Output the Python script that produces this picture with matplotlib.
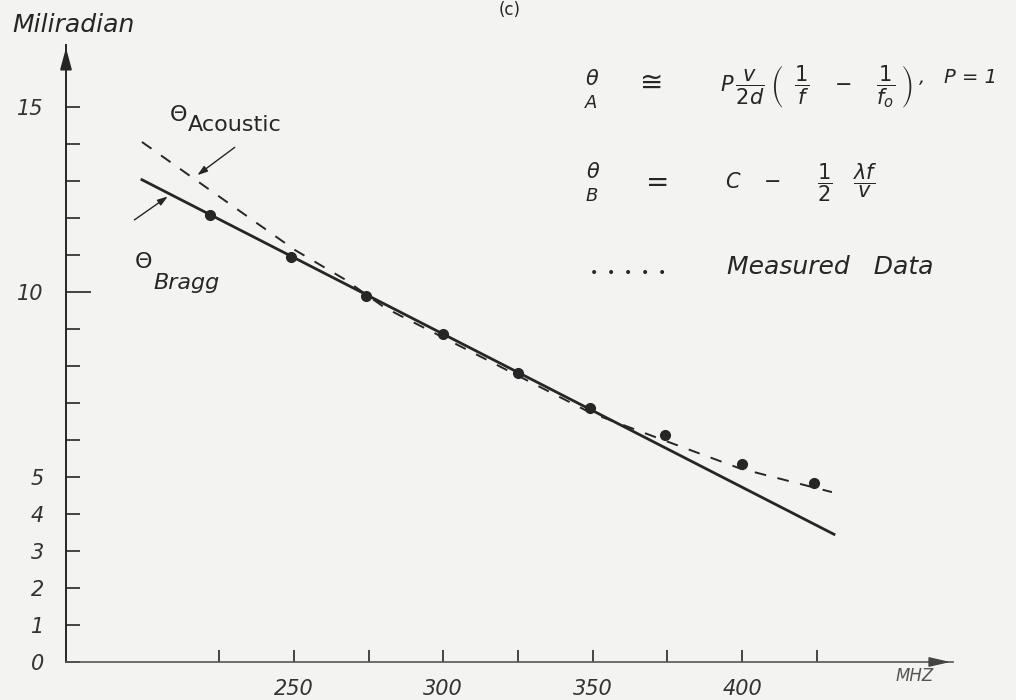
"""Bragg vs acoustic deflection angle against frequency, hand-lettered style."""
import matplotlib
matplotlib.use("Agg")
import matplotlib.pyplot as plt
from matplotlib.ticker import FixedLocator, FixedFormatter

plt.rcParams["font.family"] = ["DejaVu Sans"]
plt.rcParams["mathtext.fontset"] = "dejavusans"

INK = "#262626"
PAPER = "#f3f3f1"

# measured points (MHz, milliradian)
MEAS_MHZ = [222, 249, 274, 300, 325, 349, 374, 400, 424]
MEAS_MRAD = [12.09, 10.95, 9.90, 8.85, 7.82, 6.85, 6.12, 5.34, 4.83]

# theta Bragg (straight line)
BRAGG_MHZ = [199.2, 430.7]
BRAGG_MRAD = [13.03, 3.45]

# theta acoustic (dashed curve)
ACOUSTIC_MHZ = [199.2, 250.4, 266.8, 280.5, 349.1, 373.8, 399.2, 430.0]
ACOUSTIC_MRAD = [14.05, 11.13, 10.35, 9.57, 6.74, 5.99, 5.23, 4.59]

XTICKS = [225, 250, 275, 300, 325, 350, 375, 400, 425]
XTICK_LABELS = ["", "250", "", "300", "", "350", "", "400", ""]
YTICKS = list(range(0, 16))
YTICK_LABELS = ["0", "1", "2", "3", "4", "5", "", "", "", "", "10", "", "", "", "", "15"]

fig = plt.figure(figsize=(10.16, 7.0), dpi=100, facecolor=PAPER)
ax = fig.add_axes([66 / 1016, 1 - 662 / 700, (953 - 66) / 1016, (662 - 45) / 700])
ax.set_facecolor(PAPER)
ax.set_xlim(173.8, 470.5)
ax.set_ylim(0, 16.67)

for side in ("top", "right"):
    ax.spines[side].set_visible(False)
ax.spines["left"].set_linewidth(1.4)
ax.spines["bottom"].set_linewidth(1.2)
ax.spines["left"].set_color(INK)
ax.spines["bottom"].set_color("#555555")

# axis arrowheads
ax.annotate("", xy=(0, 1.0), xytext=(0, 0.96), xycoords="axes fraction",
            arrowprops=dict(arrowstyle="-|>,head_length=1.3,head_width=0.35",
                            color=INK, lw=1.4))
ax.annotate("", xy=(1.0, 0), xytext=(0.97, 0), xycoords="axes fraction",
            arrowprops=dict(arrowstyle="-|>,head_length=1.3,head_width=0.3",
                            color="#444444", lw=1.0))

ax.xaxis.set_major_locator(FixedLocator(XTICKS))
ax.xaxis.set_major_formatter(FixedFormatter(XTICK_LABELS))
ax.yaxis.set_major_locator(FixedLocator(YTICKS))
ax.yaxis.set_major_formatter(FixedFormatter(YTICK_LABELS))
ax.tick_params(axis="both", direction="in", colors=INK, width=1.2,
               labelsize=15, labelcolor="#333333")
ax.tick_params(axis="x", length=9, pad=12)
ax.tick_params(axis="y", length=10, pad=16)
for lab in ax.get_xticklabels() + ax.get_yticklabels():
    lab.set_fontstyle("italic")
    lab.set_fontweight("light")
ax.yaxis.get_major_ticks()[10].tick1line.set_markersize(18)

# lines and points
ax.plot(BRAGG_MHZ, BRAGG_MRAD, color=INK, lw=2.0)
ax.plot(ACOUSTIC_MHZ, ACOUSTIC_MRAD, color=INK, lw=1.4, ls=(0, (6, 6)))
ax.plot(MEAS_MHZ, MEAS_MRAD, "o", color=INK, ms=7)

# line labels with pointer arrows
ax.text(211.3, 14.78, "\u0398", fontsize=16, color=INK, ha="center", va="center")
ax.text(214.6, 14.50, "Acoustic", fontsize=16, color=INK, ha="left", va="center")
ax.annotate("", xy=(217.0, 13.11), xytext=(231.0, 13.95),
            arrowprops=dict(arrowstyle="-|>,head_length=0.6,head_width=0.2",
                            color=INK, lw=1.0))
ax.text(199.6, 10.82, "\u0398", fontsize=16, color=INK, ha="center", va="center")
ax.text(202.9, 10.25, "Bragg", fontsize=16, color=INK, ha="left", va="center",
        fontstyle="italic")
ax.annotate("", xy=(208.6, 12.62), xytext=(195.9, 11.90),
            arrowprops=dict(arrowstyle="-|>,head_length=0.6,head_width=0.2",
                            color=INK, lw=1.0))

# formula block
ax.text(349.7, 15.75, r"$\theta$", fontsize=15, color=INK, ha="center", va="center")
ax.text(349.4, 15.10, "A", fontsize=13, color=INK, ha="center", va="center",
        fontstyle="italic")
ax.text(369.8, 15.65, "\u2245", fontsize=20, color=INK, ha="center", va="center")
ax.text(392.6, 15.55,
        r"$P\,\dfrac{v}{2d}\;\left(\;\;\dfrac{1}{f}\quad-\quad\dfrac{1}{f_{o}}\;\right)$",
        fontsize=15, color=INK, ha="left", va="center")
ax.text(459.0, 15.80, ",   P = 1", fontsize=14, color=INK, ha="left", va="center",
        fontstyle="italic")

ax.text(350.1, 13.25, r"$\theta$", fontsize=15, color=INK, ha="center", va="center")
ax.text(349.7, 12.60, "B", fontsize=13, color=INK, ha="center", va="center",
        fontstyle="italic")
ax.text(371.8, 12.95, "=", fontsize=20, color=INK, ha="center", va="center")
ax.text(394.2, 12.95, r"$C\quad-\quad\;\;\dfrac{1}{2}\quad\dfrac{\lambda f}{v}$",
        fontsize=15, color=INK, ha="left", va="center")

ax.text(361.8, 10.52, "\u2022  \u2022  \u2022  \u2022  \u2022", fontsize=10,
        color=INK, ha="center", va="center")
ax.text(394.9, 10.68, "Measured   Data", fontsize=18, color=INK, ha="left",
        va="center", fontstyle="italic", fontweight="light")

# axis names
ax.text(457.8, -0.38, "MHZ", fontsize=12, color="#555555", ha="center",
        va="center", fontstyle="italic", clip_on=False)
fig.text(12 / 1016, 1 - 25 / 700, "Miliradian", fontsize=18, color=INK,
         ha="left", va="center", fontstyle="italic")
fig.text(510 / 1016, 0.998, "(c)", fontsize=12, color=INK, ha="center", va="top")

fig.savefig("out.png", dpi=100, facecolor=PAPER)
